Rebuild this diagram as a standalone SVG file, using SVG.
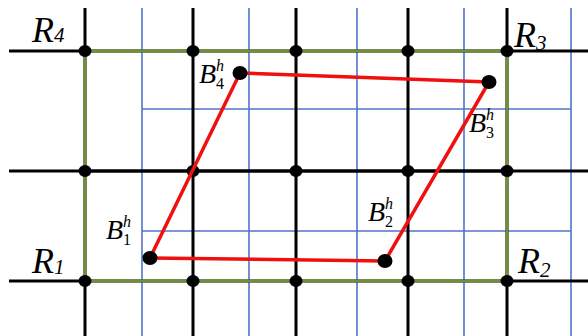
<svg xmlns="http://www.w3.org/2000/svg" width="588" height="336" viewBox="0 0 588 336">
<style>
.blue{stroke:#4f74c8;stroke-width:1.6;fill:none}
.blk{stroke:#000;stroke-width:3;fill:none}
.grn{stroke:#6f8f3c;stroke-width:3;fill:none}
.red{stroke:#f01010;stroke-width:3.5;fill:none;stroke-linecap:round}
.dot{fill:#000}
.R{font-family:"Liberation Serif",serif;font-style:italic;font-size:36px;fill:#000}
.Rs{font-size:21px}
.B{font-family:"Liberation Serif",serif;font-style:italic;font-size:28px;fill:#000}
.Bs{font-size:16px;font-style:normal}
.Bh{font-size:16px;font-style:italic}
</style>
<rect width="588" height="336" fill="#fff"/>
<g id="grid">
<g class="blue">
<line x1="142" y1="8" x2="142" y2="336"/>
<line x1="249" y1="8" x2="249" y2="336"/>
<line x1="357" y1="8" x2="357" y2="336"/>
<line x1="464" y1="8" x2="464" y2="336"/>
<line x1="571" y1="8" x2="571" y2="336"/>
<line x1="142" y1="109" x2="571" y2="109"/>
<line x1="142" y1="231" x2="571" y2="231"/>
</g>
<g class="blk">
<line x1="85" y1="8" x2="85" y2="336"/>
<line x1="193" y1="8" x2="193" y2="336"/>
<line x1="296" y1="8" x2="296" y2="336"/>
<line x1="408" y1="8" x2="408" y2="336"/>
<line x1="507" y1="8" x2="507" y2="336"/>
<line x1="9" y1="51" x2="588" y2="51"/>
<line x1="9" y1="171" x2="588" y2="171"/>
<line x1="9" y1="281" x2="588" y2="281"/>
</g>
<rect class="grn" x="85" y="51" width="422" height="230"/>
<line class="blk" x1="85" y1="171" x2="507" y2="171"/>
<g class="dot">
<ellipse cx="85" cy="51" rx="6.5" ry="6"/><ellipse cx="193" cy="51" rx="6.5" ry="6"/><ellipse cx="296" cy="51" rx="6.5" ry="6"/><ellipse cx="408" cy="51" rx="6.5" ry="6"/><ellipse cx="507" cy="51" rx="6.5" ry="6"/>
<ellipse cx="85" cy="171" rx="6.5" ry="6"/><ellipse cx="193" cy="171" rx="6.5" ry="6"/><ellipse cx="296" cy="171" rx="6.5" ry="6"/><ellipse cx="408" cy="171" rx="6.5" ry="6"/><ellipse cx="507" cy="171" rx="6.5" ry="6"/>
<ellipse cx="85" cy="281" rx="6.5" ry="6"/><ellipse cx="193" cy="281" rx="6.5" ry="6"/><ellipse cx="296" cy="281" rx="6.5" ry="6"/><ellipse cx="408" cy="281" rx="6.5" ry="6"/><ellipse cx="507" cy="281" rx="6.5" ry="6"/>
</g>
</g>
<g id="connectors">
<line class="red" x1="150" y1="258" x2="385" y2="261"/>
<line class="red" x1="385" y1="261" x2="489" y2="82"/>
<line class="red" x1="489" y1="82" x2="240" y2="73"/>
<line class="red" x1="240" y1="73" x2="150" y2="258"/>
</g>
<g id="R1"><text class="R" x="32" y="273">R<tspan class="Rs" dy="1">1</tspan></text></g>
<g id="R2"><text class="R" x="518" y="273">R<tspan class="Rs" dy="4">2</tspan></text></g>
<g id="R3"><text class="R" x="514" y="47">R<tspan class="Rs" dy="3">3</tspan></text></g>
<g id="R4"><text class="R" x="32" y="42">R<tspan class="Rs" dy="0">4</tspan></text></g>
<g id="B1"><ellipse class="dot" cx="150" cy="258" rx="7.5" ry="7"/>
<text class="B" x="106" y="239">B<tspan class="Bh" dy="-12">h</tspan><tspan class="Bs" dx="-8" dy="18">1</tspan></text></g>
<g id="B2"><ellipse class="dot" cx="385" cy="261" rx="7.5" ry="7"/>
<text class="B" x="368" y="221">B<tspan class="Bh" dy="-12">h</tspan><tspan class="Bs" dx="-8" dy="18">2</tspan></text></g>
<g id="B3"><ellipse class="dot" cx="489" cy="82" rx="7.5" ry="7"/>
<text class="B" x="469" y="132">B<tspan class="Bh" dy="-12">h</tspan><tspan class="Bs" dx="-8" dy="18">3</tspan></text></g>
<g id="B4"><ellipse class="dot" cx="240" cy="73" rx="7.5" ry="7"/>
<text class="B" x="199" y="83">B<tspan class="Bh" dy="-12">h</tspan><tspan class="Bs" dx="-8" dy="18">4</tspan></text></g>
</svg>
